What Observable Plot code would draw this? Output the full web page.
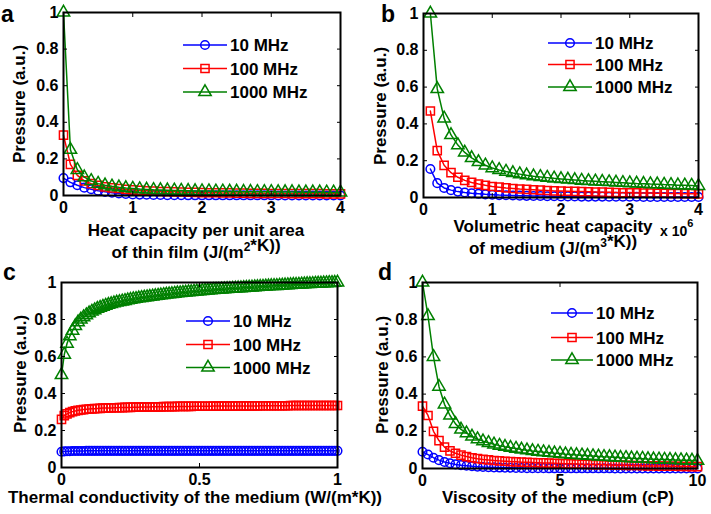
<!DOCTYPE html>
<html><head><meta charset="utf-8">
<script src="https://cdn.jsdelivr.net/npm/d3@7"></script>
<script src="https://cdn.jsdelivr.net/npm/@observablehq/plot@0.6"></script>
<style>
body{margin:0;background:#fff;}
#fig{position:relative;width:711px;height:514px;font-family:"Liberation Sans",Arial,sans-serif;}
#fig svg{position:absolute;overflow:visible;background:transparent;}
</style></head><body><div id="fig"></div>
<script>
// ---------- data ----------
const seriesNames = ["10 MHz", "100 MHz", "1000 MHz"];
const yTicks = [0, 0.2, 0.4, 0.6, 0.8, 1];

// panel a
const xA = [0,0.1,0.2,0.3,0.4,0.5,0.6,0.7,0.8,0.9,1,1.1,1.2,1.3,1.4,1.5,1.6,1.7,1.8,1.9,2,2.1,2.2,2.3,2.4,2.5,2.6,2.7,2.8,2.9,3,3.1,3.2,3.3,3.4,3.5,3.6,3.7,3.8,3.9,4];
const aBlue = [0.095,0.072,0.056,0.043,0.034,0.026,0.02,0.015,0.011,0.008,0.006,0.005,0.004,0.003,0.003,0.002,0.002,0.002,0.001,0.001,0.001,0.001,0.001,0.001,0.001,0.001,0.001,0.001,0.001,0.001,0.001,0,0,0,0,0,0,0,0,0,0];
const aRed = [0.33,0.17,0.11,0.08,0.065,0.055,0.047,0.042,0.038,0.034,0.031,0.028,0.026,0.024,0.022,0.021,0.02,0.019,0.018,0.017,0.016,0.015,0.015,0.014,0.014,0.013,0.013,0.012,0.012,0.012,0.011,0.011,0.011,0.01,0.01,0.01,0.01,0.01,0.009,0.009,0.009];
const aGreen = [1,0.25,0.14,0.1,0.08,0.065,0.056,0.05,0.045,0.041,0.038,0.035,0.033,0.031,0.03,0.029,0.028,0.027,0.026,0.025,0.024,0.024,0.023,0.023,0.022,0.022,0.021,0.021,0.02,0.02,0.02,0.019,0.019,0.019,0.018,0.018,0.018,0.018,0.017,0.017,0.017];
const xTicksA = [0, 1, 2, 3, 4];

// panel b (x in units of 10^6)
const xB = [0.1,0.2,0.3,0.4,0.5,0.6,0.7,0.8,0.9,1,1.1,1.2,1.3,1.4,1.5,1.6,1.7,1.8,1.9,2,2.1,2.2,2.3,2.4,2.5,2.6,2.7,2.8,2.9,3,3.1,3.2,3.3,3.4,3.5,3.6,3.7,3.8,3.9,4];
const bBlue = [0.155,0.078,0.052,0.04,0.032,0.027,0.023,0.02,0.017,0.015,0.013,0.012,0.011,0.01,0.009,0.008,0.008,0.007,0.007,0.006,0.006,0.006,0.005,0.005,0.005,0.005,0.004,0.004,0.004,0.004,0.004,0.003,0.003,0.003,0.003,0.003,0.003,0.003,0.003,0.003];
const bRed = [0.47,0.255,0.175,0.135,0.11,0.093,0.082,0.073,0.066,0.06,0.056,0.052,0.049,0.046,0.044,0.042,0.04,0.038,0.036,0.035,0.034,0.033,0.032,0.031,0.03,0.029,0.028,0.027,0.026,0.026,0.025,0.024,0.024,0.023,0.023,0.022,0.022,0.021,0.021,0.02];
const bGreen = [1,0.59,0.43,0.34,0.285,0.245,0.215,0.193,0.175,0.16,0.15,0.141,0.133,0.127,0.121,0.116,0.112,0.108,0.104,0.101,0.098,0.095,0.092,0.09,0.088,0.086,0.084,0.082,0.08,0.078,0.076,0.075,0.073,0.072,0.07,0.069,0.067,0.066,0.065,0.063];
const xTicksB = [0, 1, 2, 3, 4];

// panel c
const xC = [0,0.01,0.02,0.03,0.04,0.05,0.06,0.07,0.08,0.09,0.1,0.11,0.12,0.13,0.14,0.15,0.16,0.17,0.18,0.19,0.2,0.21,0.22,0.23,0.24,0.25,0.26,0.27,0.28,0.29,0.3,0.31,0.32,0.33,0.34,0.35,0.36,0.37,0.38,0.39,0.4,0.41,0.42,0.43,0.44,0.45,0.46,0.47,0.48,0.49,0.5,0.51,0.52,0.53,0.54,0.55,0.56,0.57,0.58,0.59,0.6,0.61,0.62,0.63,0.64,0.65,0.66,0.67,0.68,0.69,0.7,0.71,0.72,0.73,0.74,0.75,0.76,0.77,0.78,0.79,0.8,0.81,0.82,0.83,0.84,0.85,0.86,0.87,0.88,0.89,0.9,0.91,0.92,0.93,0.94,0.95,0.96,0.97,0.98,0.99,1];
const cBlue = [0.085,0.087,0.088,0.088,0.089,0.089,0.089,0.089,0.089,0.09,0.09,
0.09,0.09,0.09,0.09,0.09,0.09,0.09,0.09,0.09,0.09,
0.09,0.09,0.09,0.09,0.09,0.09,0.09,0.09,0.09,0.09,
0.09,0.09,0.09,0.09,0.09,0.09,0.09,0.09,0.09,0.09,
0.09,0.09,0.09,0.09,0.09,0.09,0.09,0.09,0.09,0.09,
0.09,0.09,0.09,0.09,0.09,0.09,0.09,0.09,0.09,0.09,
0.09,0.09,0.09,0.09,0.09,0.09,0.09,0.09,0.09,0.09,
0.09,0.09,0.09,0.09,0.09,0.09,0.09,0.09,0.09,0.09,
0.09,0.09,0.09,0.09,0.09,0.09,0.09,0.09,0.09,0.09,
0.09,0.09,0.09,0.09,0.09,0.09,0.09,0.09,0.09,0.09];
const cRed = [0.26,0.28,0.29,0.297,0.302,0.306,0.309,0.311,0.313,0.315,0.316,
0.317,0.318,0.319,0.32,0.321,0.321,0.322,0.322,0.323,0.323,
0.324,0.324,0.325,0.325,0.325,0.326,0.326,0.326,0.327,0.327,
0.327,0.327,0.328,0.328,0.328,0.328,0.329,0.329,0.329,0.329,
0.329,0.33,0.33,0.33,0.33,0.33,0.33,0.331,0.331,0.331,
0.331,0.331,0.331,0.331,0.332,0.332,0.332,0.332,0.332,0.332,
0.332,0.332,0.333,0.333,0.333,0.333,0.333,0.333,0.333,0.333,
0.333,0.334,0.334,0.334,0.334,0.334,0.334,0.334,0.334,0.334,
0.334,0.334,0.335,0.335,0.335,0.335,0.335,0.335,0.335,0.335,
0.335,0.335,0.335,0.335,0.335,0.335,0.335,0.335,0.335,0.335];
const cGreen = [0.5,0.61,0.67,0.71,0.74,0.765,0.785,0.8,0.813,0.824,0.834,
0.843,0.851,0.858,0.864,0.87,0.875,0.88,0.884,0.888,0.892,
0.895,0.898,0.901,0.904,0.907,0.91,0.912,0.915,0.917,0.919,
0.921,0.923,0.925,0.927,0.929,0.931,0.933,0.935,0.937,0.938,
0.94,0.942,0.943,0.945,0.946,0.948,0.949,0.951,0.952,0.953,
0.955,0.956,0.957,0.958,0.96,0.961,0.962,0.963,0.964,0.965,
0.966,0.967,0.968,0.969,0.97,0.971,0.972,0.973,0.974,0.975,
0.976,0.977,0.978,0.979,0.98,0.981,0.982,0.982,0.983,0.984,
0.985,0.986,0.987,0.988,0.988,0.989,0.99,0.991,0.992,0.992,
0.993,0.994,0.995,0.995,0.996,0.997,0.998,0.998,0.999,1];
const xTicksC = [0, 0.5, 1];

// panel d
const xD = [0,0.2,0.4,0.6,0.8,1,1.2,1.4,1.6,1.8,2,2.2,2.4,2.6,2.8,3,3.2,3.4,3.6,3.8,4,4.2,4.4,4.6,4.8,5,5.2,5.4,5.6,5.8,6,6.2,6.4,6.6,6.8,7,7.2,7.4,7.6,7.8,8,8.2,8.4,8.6,8.8,9,9.2,9.4,9.6,9.8,10];
const dBlue = [0.09,0.075,0.058,0.045,0.035,0.028,0.022,0.018,0.015,0.012,0.01,0.008,0.007,0.006,0.005,0.004,0.004,0.003,0.003,0.002,0.002,0.002,0.002,0.001,0.001,0.001,0.001,0.001,0.001,0.001,0.001,0.001,0.001,0.001,0.001,0,0,0,0,0,0,0,0,0,0,0,0,0,0,0,0];
const dRed = [0.335,0.285,0.2,0.15,0.115,0.095,0.082,0.072,0.064,0.058,0.053,0.049,0.046,0.043,0.041,0.039,0.037,0.036,0.034,0.033,0.032,0.031,0.03,0.029,0.028,0.027,0.026,0.025,0.024,0.023,0.022,0.021,0.021,0.02,0.019,0.018,0.018,0.017,0.016,0.016,0.015,0.014,0.014,0.013,0.013,0.012,0.012,0.011,0.011,0.01,0.01];
const dGreen = [1,0.82,0.6,0.44,0.345,0.285,0.24,0.21,0.19,0.172,0.158,0.147,0.138,0.13,0.123,0.117,0.112,0.107,0.102,0.098,0.094,0.091,0.088,0.085,0.082,0.08,0.077,0.075,0.073,0.071,0.069,0.067,0.065,0.063,0.062,0.06,0.058,0.057,0.055,0.054,0.053,0.051,0.05,0.049,0.048,0.047,0.046,0.045,0.044,0.043,0.042];
const xTicksD = [0, 5, 10];

// ---------- styles ----------
const colors = ["#0000ff", "#ff0000", "#008000"];
const plotSymbols = ["circle", "square", "triangle"];
const d3Symbols = [d3.symbolCircle, d3.symbolSquare, d3.symbolTriangle];
const symR = [4.3, 4.6, 4.6];
const FONT = "Liberation Sans, Arial, sans-serif";

const panels = [
  {letter: "a", left: 0, top: 0, m: [12, 15, 62, 63], x: xA, series: [aBlue, aRed, aGreen], xDomain: [0, 4], xTicks: xTicksA,
   xlabel: [["Heat capacity per unit area"], ["of thin film (J/(m", ["2", "sup"], "*K))"]], xlabX: 196, xlabY: [236, 258],
   ylab: [19, 104], leg: {x1: 183, x2: 227, y: [45, 68.5, 92]}, letterPos: [1, 22]},
  {letter: "b", left: 355, top: 0, m: [13, 12, 60, 68], x: xB, series: [bBlue, bRed, bGreen], xDomain: [0, 4], xTicks: xTicksB,
   xlabel: [["Volumetric heat capacity"], ["of medium (J/(m", ["3", "sup"], "*K))"]], xlabX: 198, xlabY: [232, 254],
   ylab: [25, 106], leg: {x1: 193, x2: 237, y: [43, 64.5, 87]}, letterPos: [26, 22], exp: true},
  {letter: "c", left: 0, top: 257, m: [25, 18, 47, 61], x: xC, series: [cBlue, cRed, cGreen], xDomain: [0, 1], xTicks: xTicksC,
   xlabel: [["Thermal conductivity of the medium (W/(m*K))"]], xlabX: 195, xlabY: [246],
   ylab: [20, 117], leg: {x1: 186, x2: 230, y: [64, 87.5, 110.5]}, letterPos: [3, 23]},
  {letter: "d", left: 355, top: 257, m: [25, 13, 46, 67], x: xD, series: [dBlue, dRed, dGreen], xDomain: [0, 10], xTicks: xTicksD,
   xlabel: [["Viscosity of the medium (cP)"]], xlabX: 203, xlabY: [246],
   ylab: [27, 118], leg: {x1: 196, x2: 238, y: [56, 80.5, 103]}, letterPos: [23, 23]}
];

const fig = document.getElementById("fig");

for (const p of panels) {
  const marks = [];
  p.series.forEach((vals, s) => {
    const data = p.x.map((x, i) => ({x, y: vals[i]}));
    marks.push(Plot.line(data, {x: "x", y: "y", stroke: colors[s], strokeWidth: 1.5}));
    marks.push(Plot.dot(data, {x: "x", y: "y", symbol: plotSymbols[s], r: symR[s], stroke: colors[s], fill: "none", strokeWidth: 1.5}));
  });
  const fmt = d => String(d);
  marks.push(
    Plot.axisX(p.xTicks, {anchor: "bottom", tickSize: -4, tickPadding: 10, tickFormat: fmt, fontSize: 16, fontWeight: "bold", label: null}),
    Plot.axisX(p.xTicks, {anchor: "top", tickSize: -4, tickFormat: () => "", label: null}),
    Plot.axisY(yTicks, {anchor: "left", tickSize: -4, tickPadding: 9, tickFormat: fmt, fontSize: 16, fontWeight: "bold", label: null}),
    Plot.axisY(yTicks, {anchor: "right", tickSize: -4, tickFormat: () => "", label: null}),
    Plot.frame({stroke: "black", strokeWidth: 2})
  );
  const svg = Plot.plot({
    width: 355, height: 257,
    marginTop: p.m[0], marginRight: p.m[1], marginBottom: p.m[2], marginLeft: p.m[3],
    x: {domain: p.xDomain},
    y: {domain: [0, 1]},
    style: {fontFamily: FONT, color: "black", background: "transparent", overflow: "visible"},
    marks
  });
  svg.style.left = p.left + "px";
  svg.style.top = p.top + "px";
  const g = d3.select(svg).append("g").attr("font-family", FONT).attr("font-weight", "bold")
    .attr("fill", "black").attr("text-anchor", "start");

  // panel letter
  g.append("text").attr("x", p.letterPos[0]).attr("y", p.letterPos[1]).attr("font-size", 23).text(p.letter);

  // y label
  g.append("text").attr("transform", `translate(${p.ylab[0]},${p.ylab[1]}) rotate(-90)`)
    .attr("text-anchor", "middle").attr("dy", "0.35em").attr("font-size", 17).text("Pressure (a.u.)");

  // x label lines
  p.xlabel.forEach((parts, li) => {
    const t = g.append("text").attr("x", p.xlabX).attr("y", p.xlabY[li]).attr("text-anchor", "middle").attr("font-size", 17);
    parts.forEach(part => {
      if (Array.isArray(part)) {
        t.append("tspan").attr("dy", -7).attr("font-size", 12).text(part[0]);
        t.append("tspan").attr("dy", 7).text("");
      } else {
        t.append("tspan").text(part);
      }
    });
  });

  // x 10^6 exponent
  if (p.exp) {
    const t = g.append("text").attr("x", 305).attr("y", 236).attr("font-size", 14).attr("text-anchor", "start");
    t.append("tspan").text("x 10");
    t.append("tspan").attr("dy", -9).attr("font-size", 11).text("6");
  }

  // legend
  seriesNames.forEach((name, s) => {
    const y = p.leg.y[s];
    g.append("line").attr("x1", p.leg.x1).attr("x2", p.leg.x2).attr("y1", y).attr("y2", y)
      .attr("stroke", colors[s]).attr("stroke-width", 1.5);
    g.append("path").attr("d", d3.symbol(d3Symbols[s], Math.PI * symR[s] * symR[s])())
      .attr("transform", `translate(${(p.leg.x1 + p.leg.x2) / 2},${y})`)
      .attr("fill", "none").attr("stroke", colors[s]).attr("stroke-width", 1.5);
    g.append("text").attr("x", p.leg.x2 + 3).attr("y", y).attr("dy", "0.36em").attr("font-size", 17)
      .attr("text-anchor", "start").text(name);
  });

  fig.appendChild(svg);
}
</script>
</body></html>
